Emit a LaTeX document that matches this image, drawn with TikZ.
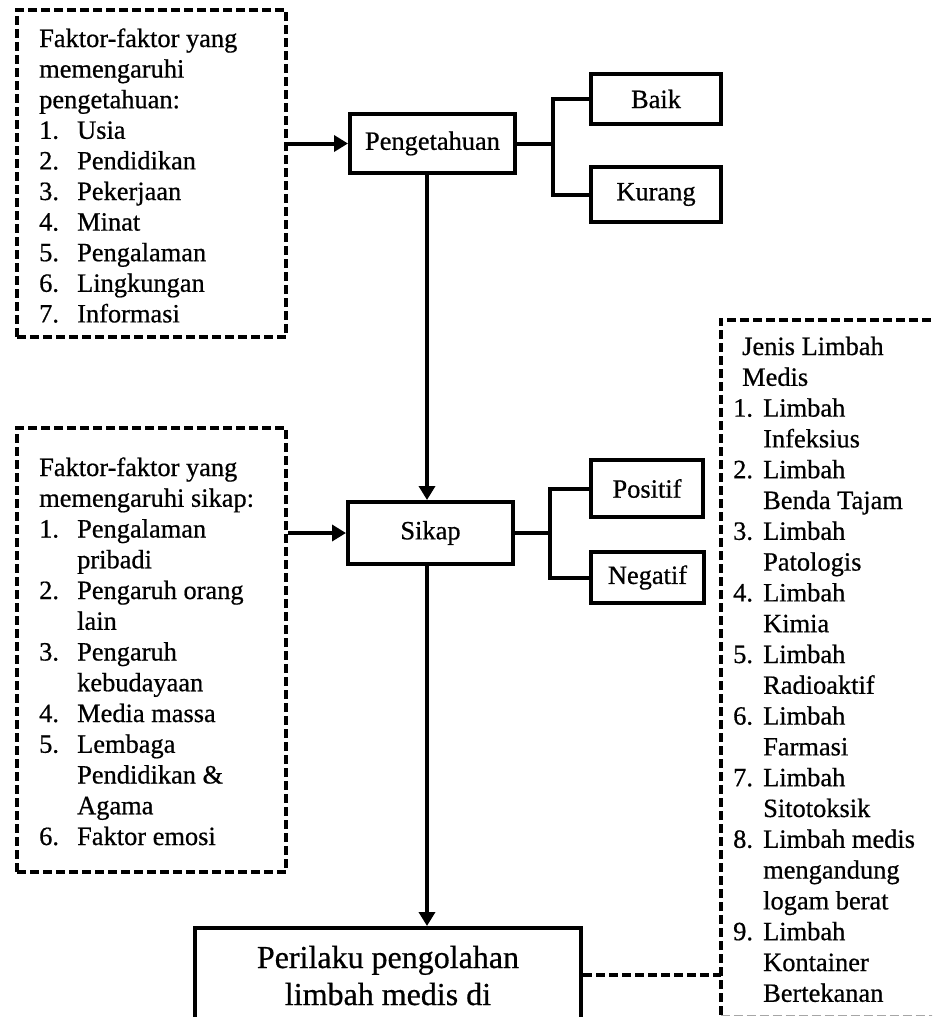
\documentclass[tikz,border=0pt]{standalone}
\usepackage{fontspec}
\setmainfont[FakeBold=0.6]{Liberation Serif}
\usetikzlibrary{arrows.meta}
\newcommand\numi[1]{\makebox[38pt][l]{#1}}
\newcommand\numj[1]{\makebox[30pt][l]{#1}}
\tikzset{
  solidbox/.style={draw, line width=4pt, rectangle, inner sep=0pt, font=\fontsize{26.4}{30.7}\selectfont},
  dashbox/.style={draw, line width=4pt, dash pattern=on 9pt off 4pt, rectangle, inner sep=0pt},
  dashline/.style={line width=4pt, dash pattern=on 9pt off 4pt},
  link/.style={line width=4pt},
  arr/.style={link, -{Triangle[length=14pt,width=16pt]}},
  txt/.style={anchor=base west, inner sep=0pt},
}
\begin{document}
\begin{tikzpicture}[x=1pt,y=-1pt]
\clip (0,0) rectangle (932,1017);
\fill[white] (0,0) rectangle (932,1017);

% left top box
\node[dashbox, minimum width=269pt, minimum height=327pt] (kbox) at (151.5,173.5) {};
\node[txt] (ktext) at (39,47) {\begin{minipage}[t]{245pt}\fontsize{26.4}{30.6}\selectfont
Faktor-faktor yang\\
memengaruhi\\
pengetahuan:\\
\numi{1.}Usia\\
\numi{2.}Pendidikan\\
\numi{3.}Pekerjaan\\
\numi{4.}Minat\\
\numi{5.}Pengalaman\\
\numi{6.}Lingkungan\\
\numi{7.}Informasi
\end{minipage}};

% left middle box
\node[dashbox, minimum width=269pt, minimum height=444pt] (skbox) at (151.5,650) {};
\node[txt] (sktext) at (39,476) {\begin{minipage}[t]{245pt}\fontsize{26.4}{30.75}\selectfont
Faktor-faktor yang\\
memengaruhi sikap:\\
\numi{1.}Pengalaman\\
\hspace*{38pt}pribadi\\
\numi{2.}Pengaruh orang\\
\hspace*{38pt}lain\\
\numi{3.}Pengaruh\\
\hspace*{38pt}kebudayaan\\
\numi{4.}Media massa\\
\numi{5.}Lembaga\\
\hspace*{38pt}Pendidikan \&\\
\hspace*{38pt}Agama\\
\numi{6.}Faktor emosi
\end{minipage}};

% main boxes
\node[solidbox, minimum width=165pt, minimum height=59pt] (peng) at (432.5,143.5) {Pengetahuan};
\node[solidbox, minimum width=130pt, minimum height=50pt] (baik) at (656,99) {Baik};
\node[solidbox, minimum width=130pt, minimum height=55pt] (kurang) at (656,194.5) {Kurang};

\node[solidbox, minimum width=165pt, minimum height=62pt] (sikap) at (430.5,533) {Sikap};
\node[solidbox, minimum width=112pt, minimum height=57pt] (positif) at (647,488.5) {Positif};
\node[solidbox, minimum width=113pt, minimum height=51pt] (negatif) at (647.5,577.5) {Negatif};

\node[solidbox, minimum width=386pt, minimum height=94pt] (pbox) at (388,975) {};
\node[anchor=base, inner sep=0pt] (ptext) at (388,968) {\begin{minipage}[t]{380pt}\centering\fontsize{32}{37}\selectfont
Perilaku pengolahan\\
limbah medis di
\end{minipage}};

% right box
\node[rectangle, inner sep=0pt, minimum width=239pt, minimum height=695pt] (jbox) at (840.5,667.5) {};
\draw[dashline] (jbox.south west) -- (jbox.north west) -- (jbox.north east);
\draw[gray!70, line width=1pt, dash pattern=on 9pt off 4pt] (jbox.south west) -- (jbox.south east);
\node[txt] (jtext) at (733,355) {\begin{minipage}[t]{200pt}\fontsize{26.4}{30.8}\selectfont
\hspace*{9pt}Jenis Limbah\\
\hspace*{9pt}Medis\\
\numj{1.}Limbah\\
\hspace*{30pt}Infeksius\\
\numj{2.}Limbah\\
\hspace*{30pt}Benda Tajam\\
\numj{3.}Limbah\\
\hspace*{30pt}Patologis\\
\numj{4.}Limbah\\
\hspace*{30pt}Kimia\\
\numj{5.}Limbah\\
\hspace*{30pt}Radioaktif\\
\numj{6.}Limbah\\
\hspace*{30pt}Farmasi\\
\numj{7.}Limbah\\
\hspace*{30pt}Sitotoksik\\
\numj{8.}Limbah medis\\
\hspace*{30pt}mengandung\\
\hspace*{30pt}logam berat\\
\numj{9.}Limbah\\
\hspace*{30pt}Kontainer\\
\hspace*{30pt}Bertekanan
\end{minipage}};

% connectors
\draw[arr] (kbox.east |- peng.west) -- (peng.west);
\draw[arr] (skbox.east |- sikap.west) -- (sikap.west);

\coordinate (pj) at (553,146);
\draw[link] (peng.east) -- (peng.east -| pj);
\draw[link] (baik.west) -| (pj |- kurang.west) -- (kurang.west);

\coordinate (sj) at (550,532);
\draw[link] (sikap.east) -- (sikap.east -| sj);
\draw[link] (positif.west) -| (sj |- negatif.west) -- (negatif.west);

\draw[arr] ([xshift=-5.5pt]peng.south) -- ([xshift=-5.5pt]peng.south |- sikap.north);
\draw[arr] ([xshift=-3.5pt]sikap.south) -- ([xshift=-3.5pt]sikap.south |- pbox.north);

\draw[dashline] (pbox.east) -- (pbox.east -| jbox.west);
\end{tikzpicture}
\end{document}
